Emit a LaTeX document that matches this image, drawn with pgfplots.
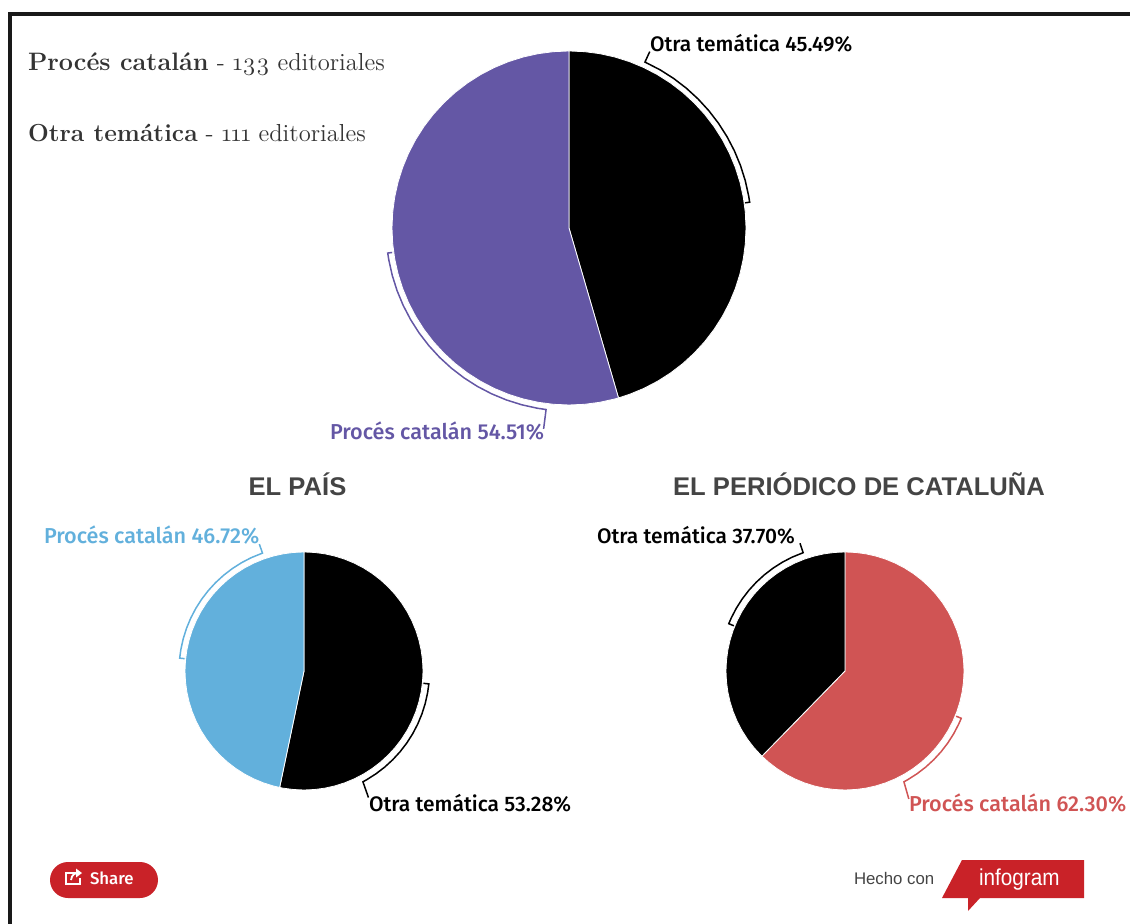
\documentclass[border=0pt]{standalone}
\usepackage{fontspec}
\usepackage{pgfplots}
\pgfplotsset{compat=1.18}
\setmainfont{Liberation Sans}
\newfontfamily\lab{Fira Sans Medium}
\newfontfamily\ed[Numbers=OldStyle]{Latin Modern Roman}
\definecolor{purp}{RGB}{100,87,165}
\definecolor{sky}{RGB}{98,176,220}
\definecolor{rojo}{RGB}{208,84,84}
\definecolor{logo}{RGB}{201,34,40}
\definecolor{txt}{RGB}{68,68,68}
\definecolor{txtb}{RGB}{52,52,52}
\pgfplotsset{
  pie/.style={hide axis,scale only axis,clip=false,anchor=center,
    xmin=-#1,xmax=#1,ymin=-#1,ymax=#1,width=#1pt,height=#1pt},
  wedge/.style={fill=#1,draw=white,line width=0.4pt,data cs=polar,no markers},
  bracket/.style={draw=#1,line width=0.75pt,data cs=polar,no markers,line join=miter},
}
\tikzset{every node/.append style={inner sep=0pt,outer sep=0pt}}
\begin{document}
\begin{tikzpicture}
\path[use as bounding box] (0,0) rectangle (565pt,462pt);
% page canvas, one unit = one pixel of the reference
\begin{axis}[at={(0,0)},anchor=south west,hide axis,scale only axis,clip=false,
  width=565pt,height=462pt,xmin=0,xmax=1130,ymin=0,ymax=924,y dir=reverse]
\fill[black!90] (axis cs:8,12) rectangle (axis cs:1130,16);
\fill[black!90] (axis cs:8,12) rectangle (axis cs:12,924);
\node[anchor=base west,text=txtb,font=\fontsize{12.6}{14}\selectfont] at (axis cs:28,71) {\ed{\bfseries Procés catalán}{\fontsize{12.3}{14}\selectfont{} - 133 editoriales}};
\node[anchor=base west,text=txtb,font=\fontsize{12.3}{14}\selectfont] at (axis cs:28,142) {\ed{\bfseries Otra temática} - 111 editoriales};
\node[anchor=base west,font=\lab\fontsize{10.5}{12}\selectfont] at (axis cs:650,52) {Otra temática 45.49\%};
\node[anchor=base west,text=purp,font=\lab\fontsize{10.8}{12}\selectfont] at (axis cs:330,440) {Procés catalán 54.51\%};
\node[anchor=base,text=txt,font=\bfseries\fontsize{12.8}{16}\selectfont] at (axis cs:297.5,496) {EL PAÍS};
\node[anchor=base,text=txt,font=\bfseries\fontsize{12.8}{16}\selectfont] at (axis cs:859,496) {EL PERIÓDICO DE CATALUÑA};
\node[anchor=base west,text=sky,font=\lab\fontsize{10.8}{12}\selectfont] at (axis cs:44,544) {Procés catalán 46.72\%};
\node[anchor=base west,font=\lab\fontsize{10.5}{12}\selectfont] at (axis cs:597,544) {Otra temática 37.70\%};
\node[anchor=base west,font=\lab\fontsize{10.5}{12}\selectfont] at (axis cs:369,811) {Otra temática 53.28\%};
\node[anchor=base west,text=rojo,font=\lab\fontsize{10.8}{12}\selectfont] at (axis cs:909,811) {Procés catalán 62.30\%};
% share button
\fill[logo,rounded corners=9pt] (axis cs:50,862) rectangle (axis cs:158,898);
\draw[white,line width=0.9pt] (axis cs:76,873) -- (axis cs:66,873) -- (axis cs:66,884) -- (axis cs:80,884) -- (axis cs:80,878);
\draw[white,line width=0.9pt] (axis cs:71,880) .. controls (axis cs:72,874) and (axis cs:75,873) .. (axis cs:79,873);
\fill[white] (axis cs:76,868.5) -- (axis cs:82,873) -- (axis cs:76,877.5) -- cycle;
\node[anchor=base west,text=white,font=\lab\fontsize{8.4}{10}\selectfont] at (axis cs:90,884) {Share};
% infogram mark
\node[anchor=base west,text=txt,font=\fontsize{8.4}{10}\selectfont] at (axis cs:854,884) {Hecho con};
\fill[logo] (axis cs:962,860) -- (axis cs:1084,860) -- (axis cs:1084,898) -- (axis cs:980,898) -- (axis cs:968,911) -- (axis cs:968,898) -- (axis cs:942,898) -- cycle;
\node[anchor=base west,text=white] at (axis cs:979,885) {\scalebox{0.9}[1]{\fontsize{11.5}{14}\selectfont infogram}};
\end{axis}

% all editorials
\begin{axis}[pie=210,at={(284.5pt,348pt)}]
\addplot[wedge=black] coordinates {(0,0) (90,177) (85,177) (80,177) (75,177) (70,177) (65,177) (60,177) (55,177) (50,177) (45,177) (40,177) (35,177) (30,177) (25,177) (20,177) (15,177) (10,177) (5,177) (0,177) (-5,177) (-10,177) (-15,177) (-20,177) (-25,177) (-30,177) (-35,177) (-40,177) (-45,177) (-50,177) (-55,177) (-60,177) (-65,177) (-70,177) (-73.76,177)} -- cycle;
\addplot[wedge=purp] coordinates {(0,0) (-73.76,177) (-75,177) (-80,177) (-85,177) (-90,177) (-95,177) (-100,177) (-105,177) (-110,177) (-115,177) (-120,177) (-125,177) (-130,177) (-135,177) (-140,177) (-145,177) (-150,177) (-155,177) (-160,177) (-165,177) (-170,177) (-175,177) (-180,177) (-185,177) (-190,177) (-195,177) (-200,177) (-205,177) (-210,177) (-215,177) (-220,177) (-225,177) (-230,177) (-235,177) (-240,177) (-245,177) (-250,177) (-255,177) (-260,177) (-265,177) (-270,177)} -- cycle;
\addplot[bracket=black] coordinates {(8.12,178) (8.12,182.5) (10,182.5) (15,182.5) (20,182.5) (25,182.5) (30,182.5) (35,182.5) (40,182.5) (45,182.5) (50,182.5) (55,182.5) (60,182.5) (65.4,182.5) (65.4,194)};
\addplot[bracket=purp] coordinates {(-172.12,178.5) (-172.12,183) (-170,183) (-165,183) (-160,183) (-155,183) (-150,183) (-145,183) (-140,183) (-135,183) (-130,183) (-125,183) (-120,183) (-115,183) (-110,183) (-105,183) (-100,183) (-97.2,183) (-97.2,202.5)};
\end{axis}

% El Pais
\begin{axis}[pie=150,at={(152pt,126.5pt)}]
\addplot[wedge=black] coordinates {(0,0) (90,119) (85,119) (80,119) (75,119) (70,119) (65,119) (60,119) (55,119) (50,119) (45,119) (40,119) (35,119) (30,119) (25,119) (20,119) (15,119) (10,119) (5,119) (0,119) (-5,119) (-10,119) (-15,119) (-20,119) (-25,119) (-30,119) (-35,119) (-40,119) (-45,119) (-50,119) (-55,119) (-60,119) (-65,119) (-70,119) (-75,119) (-80,119) (-85,119) (-90,119) (-95,119) (-100,119) (-101.81,119)} -- cycle;
\addplot[wedge=sky] coordinates {(0,0) (-101.81,119) (-105,119) (-110,119) (-115,119) (-120,119) (-125,119) (-130,119) (-135,119) (-140,119) (-145,119) (-150,119) (-155,119) (-160,119) (-165,119) (-170,119) (-175,119) (-180,119) (-185,119) (-190,119) (-195,119) (-200,119) (-205,119) (-210,119) (-215,119) (-220,119) (-225,119) (-230,119) (-235,119) (-240,119) (-245,119) (-250,119) (-255,119) (-260,119) (-265,119) (-270,119)} -- cycle;
\addplot[bracket=black] coordinates {(-5.9,120) (-5.9,125.5) (-10,125.5) (-15,125.5) (-20,125.5) (-25,125.5) (-30,125.5) (-35,125.5) (-40,125.5) (-45,125.5) (-50,125.5) (-55,125.5) (-60,125.5) (-62,125.5) (-63,142)};
\addplot[bracket=sky] coordinates {(174.1,120) (174.1,125) (170,125) (165,125) (160,125) (155,125) (150,125) (145,125) (140,125) (135,125) (130,125) (125,125) (120,125) (115,125) (109.4,125) (109.4,134.5)};
\end{axis}

% El Periodico
\begin{axis}[pie=150,at={(422.5pt,126.5pt)}]
\addplot[wedge=rojo] coordinates {(0,0) (90,119) (85,119) (80,119) (75,119) (70,119) (65,119) (60,119) (55,119) (50,119) (45,119) (40,119) (35,119) (30,119) (25,119) (20,119) (15,119) (10,119) (5,119) (0,119) (-5,119) (-10,119) (-15,119) (-20,119) (-25,119) (-30,119) (-35,119) (-40,119) (-45,119) (-50,119) (-55,119) (-60,119) (-65,119) (-70,119) (-75,119) (-80,119) (-85,119) (-90,119) (-95,119) (-100,119) (-105,119) (-110,119) (-115,119) (-120,119) (-125,119) (-130,119) (-134.28,119)} -- cycle;
\addplot[wedge=black] coordinates {(0,0) (-134.28,119) (-135,119) (-140,119) (-145,119) (-150,119) (-155,119) (-160,119) (-165,119) (-170,119) (-175,119) (-180,119) (-185,119) (-190,119) (-195,119) (-200,119) (-205,119) (-210,119) (-215,119) (-220,119) (-225,119) (-230,119) (-235,119) (-240,119) (-245,119) (-250,119) (-255,119) (-260,119) (-265,119) (-270,119)} -- cycle;
\addplot[bracket=black] coordinates {(157.86,120) (157.86,125.5) (155,125.5) (150,125.5) (145,125.5) (140,125.5) (135,125.5) (130,125.5) (125,125.5) (120,125.5) (115,125.5) (109.5,125.5) (109.4,135.5)};
\addplot[bracket=rojo] coordinates {(-22.14,120) (-22.14,125.5) (-25,125.5) (-30,125.5) (-35,125.5) (-40,125.5) (-45,125.5) (-50,125.5) (-55,125.5) (-60,125.5) (-62,125.5) (-63.5,143)};
\end{axis}
\end{tikzpicture}
\end{document}
